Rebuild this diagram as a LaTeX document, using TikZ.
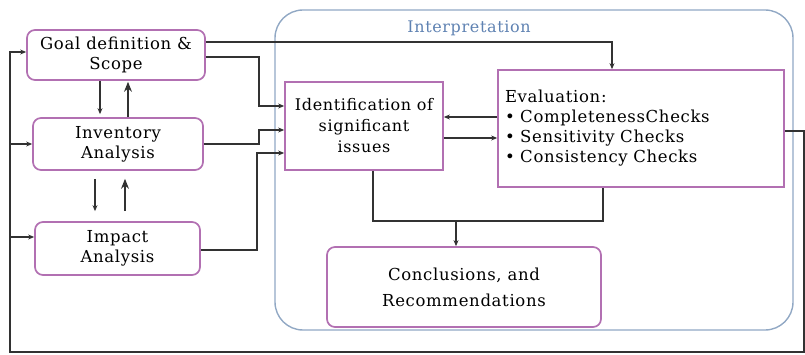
\documentclass[tikz,border=0pt]{standalone}
\usepackage{fontspec}
\setmainfont[LetterSpace=4]{DejaVu Serif}
\usetikzlibrary{arrows.meta}
\definecolor{boxpurple}{RGB}{178,112,178}
\definecolor{framegray}{RGB}{145,168,196}
\definecolor{titleblue}{RGB}{95,130,178}
\definecolor{linegray}{RGB}{50,50,50}
\begin{document}
\begin{tikzpicture}[x=1pt, y=-1pt,
  stage/.style={draw=boxpurple, line width=1.7pt, rounded corners=8pt, align=center,
    inner sep=0pt, font=\fontsize{16.5}{20}\selectfont},
  sharpbox/.style={stage, rounded corners=0pt},
  frame/.style={draw=framegray, line width=1.4pt, rounded corners=28pt},
  flow/.style={draw=linegray, line width=1.4pt, -{Stealth[length=6pt,width=5pt]}},
  bigflow/.style={flow, -{Stealth[length=10pt,width=8pt]}},
  plain/.style={draw=linegray, line width=1.4pt}]
\useasboundingbox (0,0) rectangle (805,355);

\node[frame, minimum width=518pt, minimum height=320pt] (interpframe) at (534,170) {};
\node[font=\fontsize{16}{18}\selectfont, text=titleblue] (interptitle) at (469,28) {Interpretation};

\node[stage, minimum width=178pt, minimum height=50pt] (goal) at (116,55)
  {Goal definition \&\\Scope};
\node[stage, minimum width=170pt, minimum height=52pt] (inv) at (118,144)
  {Inventory\\Analysis};
\node[stage, minimum width=165pt, minimum height=53pt] (impact) at (117.5,248.5)
  {Impact\\Analysis};
\node[sharpbox, minimum width=158pt, minimum height=88pt, font=\fontsize{16}{21}\selectfont] (ident) at (364,126)
  {Identification of\\significant\\issues};
\node[sharpbox, minimum width=286pt, minimum height=117pt, align=left, text width=272pt] (eval) at (641,128.5)
  {Evaluation:\\\textbullet\ CompletenessChecks\\\textbullet\ Sensitivity Checks\\\textbullet\ Consistency Checks};
\node[stage, minimum width=274pt, minimum height=80pt, font=\fontsize{16.5}{26}\selectfont] (conc) at (464,287)
  {Conclusions, and\\Recommendations};

% up and down between the stages
\draw[flow] ([xshift=-16pt]goal.south) -- ([xshift=-16pt,yshift=3pt]goal.south |- inv.north);
\draw[bigflow] ([xshift=12pt]goal.south |- inv.north) -- ([xshift=12pt,yshift=-1pt]goal.south);
\draw[flow] ([xshift=-23pt,yshift=-8pt]inv.south) -- ([xshift=-23pt,yshift=10pt]inv.south |- impact.north);
\draw[bigflow] ([xshift=7pt,yshift=10pt]inv.south |- impact.north) -- ([xshift=7pt,yshift=-8pt]inv.south);

% into the interpretation
\draw[flow] ([yshift=13pt]goal.east) -| ([xshift=-29pt]eval.north);
\draw[flow] ([yshift=-2pt]goal.east) -- ++(53,0) |- ([yshift=20pt]ident.west);
\draw[flow] (inv.east) -- ++(55,0) |- ([yshift=-4pt]ident.west);
\draw[flow] ([yshift=-1.5pt]impact.east) -- ++(56,0) |- ([yshift=-27pt]ident.west);
\draw[flow] ([yshift=11.5pt]eval.west) -- ([yshift=9pt]ident.east);
\draw[flow] ([yshift=-12pt]ident.east) -- ([yshift=-9.5pt]eval.west);

\coordinate (join) at (456,221);
\draw[plain] ([xshift=9pt]ident.south) |- (join) -| ([xshift=-38pt]eval.south);
\draw[flow] (join) -- (conc.north -| join);

% back to the start
\coordinate (backR) at (804,352);
\coordinate (backL) at (10,352);
\draw[flow] ([yshift=-2.5pt]eval.east) -| (backR) -- (backL) |- ([yshift=3pt]goal.west);
\draw[flow] (backL |- inv.west) -- (inv.west);
\draw[flow] ([yshift=11.5pt]backL |- impact.west) -- ([yshift=11.5pt]impact.west);
\end{tikzpicture}
\end{document}
